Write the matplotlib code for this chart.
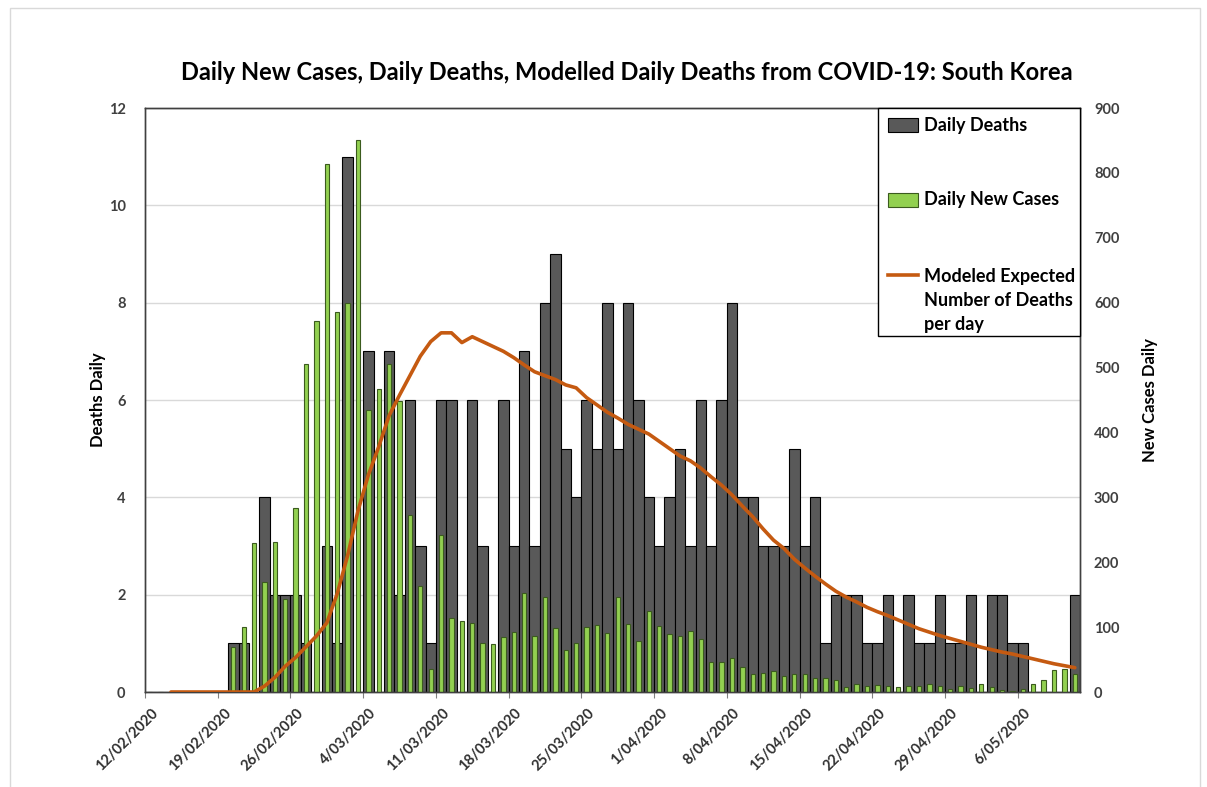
import numpy as np
import matplotlib
matplotlib.use('Agg')
import matplotlib.pyplot as plt
from matplotlib.patches import Rectangle
from matplotlib.lines import Line2D
from matplotlib.transforms import ScaledTranslation

plt.rcParams['font.family'] = ['Lato', 'DejaVu Sans']

# one category per day, 12/02/2020 .. 11/05/2020
days = np.arange(90)

deaths = [0, 0, 0, 0, 0, 0, 0, 0, 1, 1,
          0, 4, 2, 2, 2, 1, 0, 3, 1, 11,
          0, 7, 0, 7, 2, 6, 3, 1, 6, 6,
          0, 6, 3, 0, 6, 3, 7, 3, 8, 9,
          5, 4, 6, 5, 8, 5, 8, 6, 4, 3,
          4, 5, 3, 6, 3, 6, 8, 4, 4, 3,
          3, 3, 5, 3, 4, 1, 2, 2, 2, 1,
          1, 2, 0, 2, 1, 1, 2, 1, 1, 2,
          0, 2, 2, 1, 1, 0, 0, 0, 0, 2]

cases = [0, 0, 0, 0, 0, 0, 0, 0, 70, 100,
         229, 169, 231, 144, 284, 505, 571, 813, 586, 599,
         851, 435, 467, 505, 448, 273, 164, 35, 242, 114,
         110, 107, 76, 74, 84, 93, 152, 87, 147, 98,
         64, 76, 100, 104, 91, 146, 105, 78, 125, 101,
         89, 86, 94, 81, 47, 47, 53, 39, 27, 30,
         32, 25, 27, 27, 22, 22, 18, 8, 13, 9,
         11, 10, 8, 10, 10, 13, 9, 4, 9, 6,
         13, 8, 3, 2, 4, 12, 18, 34, 35, 27]

modeled = [np.nan, np.nan, 0, 0, 0, 0, 0, 0, 0, 0,
           0, 0.12, 0.3, 0.53, 0.71, 0.93, 1.15, 1.42, 2.02, 2.8,
           3.72, 4.46, 5.04, 5.68, 6.1, 6.5, 6.9, 7.2, 7.38, 7.38,
           7.18, 7.3, 7.2, 7.1, 7.0, 6.87, 6.72, 6.58, 6.5, 6.42,
           6.31, 6.25, 6.05, 5.9, 5.75, 5.63, 5.5, 5.4, 5.3, 5.15,
           5.0, 4.85, 4.75, 4.6, 4.42, 4.25, 4.05, 3.82, 3.6, 3.35,
           3.12, 2.95, 2.73, 2.55, 2.38, 2.22, 2.07, 1.95, 1.85, 1.74,
           1.65, 1.57, 1.48, 1.39, 1.3, 1.23, 1.16, 1.1, 1.04, 0.98,
           0.92, 0.87, 0.82, 0.78, 0.73, 0.68, 0.63, 0.58, 0.54, 0.5]

tick_days = np.arange(0, 90, 7)
tick_labels = ['12/02/2020', '19/02/2020', '26/02/2020', '4/03/2020',
               '11/03/2020', '18/03/2020', '25/03/2020', '1/04/2020',
               '8/04/2020', '15/04/2020', '22/04/2020', '29/04/2020',
               '6/05/2020']

DARK = '#595959'
GREEN = '#92d050'
GREEN_EDGE = '#3b5b1e'
ORANGE = '#c55a11'
TXT = '#404040'

fig = plt.figure(figsize=(12.07, 7.87), dpi=100)
fig.add_artist(Rectangle((10 / 1207, -0.01), 1190 / 1207, 1 - 8 / 787 + 0.01,
                         transform=fig.transFigure, fill=False,
                         edgecolor='#d9d9d9', lw=1))

ax1 = fig.add_axes([145 / 1207, 95 / 787, 935 / 1207, 584 / 787])
ax1.bar(days, deaths, width=1.0, color=DARK, edgecolor='black', lw=0.8,
        zorder=2)
ax1.set_xlim(-0.5, 89.5)
ax1.set_ylim(0, 12)
ax1.set_yticks(range(0, 13, 2))
ax1.grid(axis='y', color='#d9d9d9', lw=1)
ax1.set_axisbelow(True)

ax2 = ax1.twinx()
ax2.bar(days, cases, width=0.42, color=GREEN, edgecolor=GREEN_EDGE, lw=0.8)
ax2.set_ylim(0, 900)
ax2.set_yticks(range(0, 901, 100))

ax3 = ax1.twinx()
ax3.plot(days, modeled, color=ORANGE, lw=2.6, solid_capstyle='round')
ax3.set_ylim(0, 12)
ax3.axis('off')

for ax in (ax1, ax2):
    for s in ax.spines.values():
        s.set_color('#404040')
        s.set_linewidth(1)
ax1.tick_params(axis='y', length=0, labelsize=10.5, labelcolor=TXT, pad=14)
ax2.tick_params(axis='y', length=0, labelsize=10.5, labelcolor=TXT, pad=10)
for lbl in ax1.get_yticklabels() + ax2.get_yticklabels():
    lbl.set_fontweight('bold')

ax1.set_xticks(tick_days - 0.5)
ax1.set_xticklabels(tick_labels, rotation=45, ha='right', va='top',
                    rotation_mode='anchor', fontsize=10.5, color='#303030',
                    fontweight='bold')
ax1.tick_params(axis='x', length=4, color='#808080', pad=6)
for lbl in ax1.get_xticklabels():
    lbl.set_transform(lbl.get_transform() +
                      ScaledTranslation(6 / 100, 0, fig.dpi_scale_trans))

ax1.set_ylabel('Deaths Daily', fontsize=12, fontweight='bold', color='black',
               labelpad=2)
ax2.set_ylabel('New Cases Daily', fontsize=12, fontweight='bold',
               color='black', labelpad=16)

fig.text(0.519, 1 - 73 / 787,
         'Daily New Cases, Daily Deaths, Modelled Daily Deaths from COVID-19: South Korea',
         ha='center', va='center', fontsize=17, fontweight='bold')

# legend box, drawn in axes coordinates
lx0 = (878 - 145) / 935
ly0 = (692 - 336) / 584
ax3.add_patch(Rectangle((lx0, ly0), 1 - lx0, 1 - ly0, transform=ax3.transAxes,
                        facecolor='white', edgecolor='black', lw=1,
                        zorder=5, clip_on=False))
sw_x = (888 - 145) / 935
sw_w = 30 / 935
tx = (924 - 145) / 935
ax3.add_patch(Rectangle((sw_x, (692 - 132) / 584), sw_w, 14 / 584,
                        transform=ax3.transAxes, facecolor=DARK,
                        edgecolor='black', lw=0.8, zorder=6))
ax3.text(tx, (692 - 125) / 584, 'Daily Deaths', transform=ax3.transAxes,
         va='center', ha='left', fontsize=13, fontweight='bold', zorder=6)
ax3.add_patch(Rectangle((sw_x, (692 - 207) / 584), sw_w, 14 / 584,
                        transform=ax3.transAxes, facecolor=GREEN,
                        edgecolor=GREEN_EDGE, lw=0.8, zorder=6))
ax3.text(tx, (692 - 200) / 584, 'Daily New Cases', transform=ax3.transAxes,
         va='center', ha='left', fontsize=13, fontweight='bold', zorder=6)
ax3.add_line(Line2D([sw_x, sw_x + sw_w], [(692 - 275) / 584] * 2,
                    transform=ax3.transAxes, color=ORANGE, lw=2.6, zorder=6))
ax3.text(tx, (692 - 268) / 584, 'Modeled Expected\nNumber of Deaths\nper day',
         transform=ax3.transAxes, va='top', ha='left', fontsize=13,
         fontweight='bold', linespacing=1.5, zorder=6)

fig.savefig('out.png', dpi=100)
